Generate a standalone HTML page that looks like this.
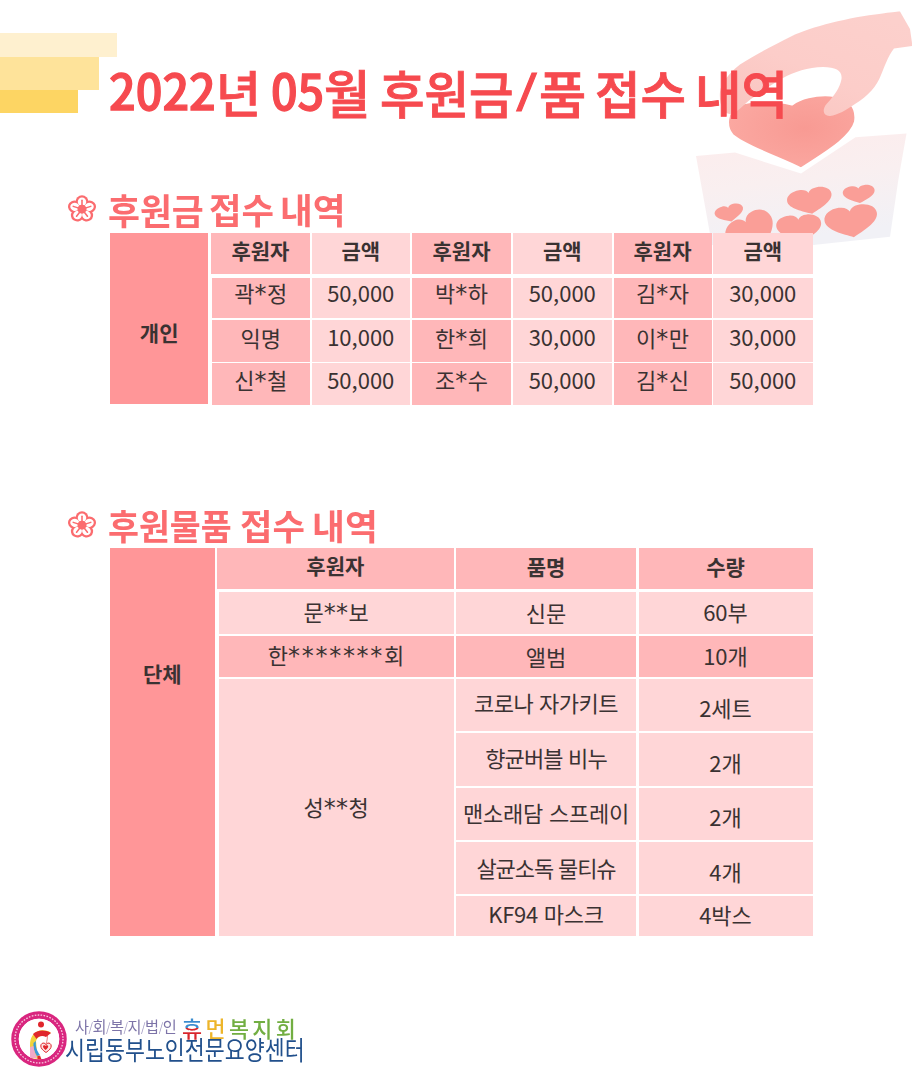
<!DOCTYPE html>
<html lang="ko">
<head>
<meta charset="utf-8">
<title>2022년 05월 후원금/품 접수 내역</title>
<style>
*{margin:0;padding:0;box-sizing:border-box}
html,body{width:912px;height:1080px;background:#fff;overflow:hidden}
body{position:relative;font-family:"Liberation Sans","Noto Sans CJK KR",sans-serif;color:#3a3232}
.a{position:absolute;white-space:nowrap;line-height:normal}
.bar1{left:0;top:33px;width:117px;height:24px;background:#fef0cf}
.bar2{left:0;top:57px;width:99px;height:33px;background:#fee39a}
.bar3{left:0;top:90px;width:78px;height:23px;background:#fdd563}
.t{font-family:"Noto Sans CJK KR",sans-serif;font-weight:500;-webkit-text-stroke:0.9px #f64a4f;color:#f64a4f;transform-origin:0 0}
.t.n{-webkit-text-stroke:1.3px #f64a4f}
.hd{font-family:"Noto Sans CJK KR",sans-serif;font-weight:700;color:#fb6c6f;transform-origin:0 0}
.fl{font-family:"DejaVu Sans",sans-serif;font-size:36.5px;color:#fb6c6f;transform-origin:0 0;transform:scaleX(1.04)}
.c{position:absolute;display:flex;align-items:center;justify-content:center;font-family:"Noto Sans CJK KR",sans-serif;font-size:22px;white-space:nowrap;color:#3a3232;line-height:32px}
.c.h,.c.lb{font-size:21px;font-weight:700;line-height:30px}
.s{font-family:"DejaVu Sans",sans-serif;font-size:24px;line-height:0;letter-spacing:0.4px}
.lg{font-family:"Noto Sans CJK KR",sans-serif;transform-origin:0 0}
</style>
</head>
<body>
<div class="a bar1"></div>
<div class="a bar2"></div>
<div class="a bar3"></div>

<svg class="a" style="left:680px;top:0" width="232" height="250" viewBox="680 0 232 250">
<defs>
<linearGradient id="bx" x1="0" y1="0" x2="0.25" y2="1"><stop offset="0" stop-color="#fdecec"/><stop offset="0.5" stop-color="#f9eff0"/><stop offset="1" stop-color="#f1f1f6"/></linearGradient>
<linearGradient id="hd" x1="0" y1="1" x2="0.8" y2="0"><stop offset="0" stop-color="#f9c3be"/><stop offset="0.5" stop-color="#fccdc9"/><stop offset="1" stop-color="#fcd0cc"/></linearGradient>
<radialGradient id="bh" cx="0.6" cy="0.45" r="0.65"><stop offset="0" stop-color="#f89a93"/><stop offset="1" stop-color="#fba9a2"/></radialGradient>
</defs>
<path d="M696 156 L735 152.6 L801 173.5 L855.5 137.3 L906.5 133.5 L898.3 180 L890 236.7 L813.3 245 L712 245 Z" fill="url(#bx)"/>
<path d="M .5,.98 C .32,.84 0,.64 0,.34 C 0,.12 .15,0 .3,0 C .41,0 .48,.08 .5,.17 C .52,.08 .59,0 .7,0 C .85,0 1,.12 1,.34 C 1,.64 .68,.84 .5,.98 Z" fill="#fa9e97" transform="rotate(-14 729.5 213.5) translate(715.0 205.0) scale(29 17)"/>
<path d="M .5,.98 C .32,.84 0,.64 0,.34 C 0,.12 .15,0 .3,0 C .41,0 .48,.08 .5,.17 C .52,.08 .59,0 .7,0 C .85,0 1,.12 1,.34 C 1,.64 .68,.84 .5,.98 Z" fill="#fa9e97" transform="rotate(-28 752 234) translate(727.0 214.0) scale(50 40)"/>
<path d="M .5,.98 C .32,.84 0,.64 0,.34 C 0,.12 .15,0 .3,0 C .41,0 .48,.08 .5,.17 C .52,.08 .59,0 .7,0 C .85,0 1,.12 1,.34 C 1,.64 .68,.84 .5,.98 Z" fill="#fa9e97" transform="rotate(-4 799 229) translate(776.5 215.0) scale(45 28)"/>
<path d="M .5,.98 C .32,.84 0,.64 0,.34 C 0,.12 .15,0 .3,0 C .41,0 .48,.08 .5,.17 C .52,.08 .59,0 .7,0 C .85,0 1,.12 1,.34 C 1,.64 .68,.84 .5,.98 Z" fill="#fa9e97" transform="rotate(-10 810 201.5) translate(787.5 188.5) scale(45 26)"/>
<path d="M .5,.98 C .32,.84 0,.64 0,.34 C 0,.12 .15,0 .3,0 C .41,0 .48,.08 .5,.17 C .52,.08 .59,0 .7,0 C .85,0 1,.12 1,.34 C 1,.64 .68,.84 .5,.98 Z" fill="#fa9e97" transform="rotate(-6 859 194.5) translate(843.0 185.5) scale(32 18)"/>
<path d="M .5,.98 C .32,.84 0,.64 0,.34 C 0,.12 .15,0 .3,0 C .41,0 .48,.08 .5,.17 C .52,.08 .59,0 .7,0 C .85,0 1,.12 1,.34 C 1,.64 .68,.84 .5,.98 Z" fill="#fa9e97" transform="rotate(-9 851.5 222) translate(825.0 206.0) scale(53 32)"/>
<path d="M801 169 C 785 160, 745 147, 732 135 C 725 127, 726 111, 737 105 C 752 99, 776 100, 792 104 C 800 98, 815 94, 830 95 C 848 96, 858 106, 855.5 122 C 851 139, 822 155, 801 169 Z" fill="url(#bh)" stroke="#fff" stroke-width="3" stroke-linejoin="round"/>
<path d="M900 11.6 L910 29 L912 43 L912 46 L894 48.5 C 888 56, 884 68, 881 75 C 877 86, 868 96, 855 104 C 846 110, 838 115, 830 116 C 824 116.5, 821 110, 827 103.5 C 834 96, 840 88, 841.5 79 C 842.5 71, 836 67, 823 67 C 808 67, 794 72, 783 78 C 770 85, 759 94, 751 99 C 744 104, 738 112, 731 114 C 723 115, 719 104, 720 92 C 721 84, 728 74, 740 64.6 C 755 55, 772 46, 792 36 C 810 27, 850 17, 881 13.7 C 890 12.5, 896 11.8, 900 11.6 Z" fill="url(#hd)"/>
</svg>

<div class="a t n" style="left:108.7px;top:52.9px;font-size:49.3px;transform:scaleX(0.95)">2022</div>
<div class="a t" style="left:215.8px;top:56.1px;font-size:49.5px;transform:scaleX(0.987)">년</div>
<div class="a t n" style="left:270.9px;top:52.9px;font-size:49.3px;transform:scaleX(0.946)">05</div>
<div class="a t" style="left:324px;top:53.1px;font-size:52.2px;transform:scaleX(0.966)">월</div>
<div class="a t" style="left:380.3px;top:54.5px;font-size:51.2px;transform:scaleX(0.945)">후원금</div>
<div class="a t" style="left:515.9px;top:61.7px;font-size:38.7px;transform:scaleX(1.433)">/</div>
<div class="a t" style="left:538.8px;top:54.9px;font-size:51px;transform:scaleX(1.005)">품</div>
<div class="a t" style="left:594.5px;top:54.3px;font-size:51.3px;transform:scaleX(0.965)">접수</div>
<div class="a t" style="left:695.4px;top:54.3px;font-size:51.3px;transform:scaleX(0.987)">내역</div>

<svg class="a" style="left:63.6px;top:191px" width="36" height="34" viewBox="63.6 191 36 34"><g transform="translate(81.6 209.1) scale(1.04 1) translate(-81.6 -209.1)"><ellipse cx="81.60" cy="201.80" rx="6.60" ry="6.25" transform="rotate(-90 81.60 201.80)" fill="#fb6c6f"/><ellipse cx="88.54" cy="206.84" rx="6.60" ry="6.25" transform="rotate(-18 88.54 206.84)" fill="#fb6c6f"/><ellipse cx="85.89" cy="215.01" rx="6.60" ry="6.25" transform="rotate(54 85.89 215.01)" fill="#fb6c6f"/><ellipse cx="77.31" cy="215.01" rx="6.60" ry="6.25" transform="rotate(126 77.31 215.01)" fill="#fb6c6f"/><ellipse cx="74.66" cy="206.84" rx="6.60" ry="6.25" transform="rotate(198 74.66 206.84)" fill="#fb6c6f"/><ellipse cx="81.60" cy="201.80" rx="4.40" ry="4.05" transform="rotate(-90 81.60 201.80)" fill="#fff"/><ellipse cx="88.54" cy="206.84" rx="4.40" ry="4.05" transform="rotate(-18 88.54 206.84)" fill="#fff"/><ellipse cx="85.89" cy="215.01" rx="4.40" ry="4.05" transform="rotate(54 85.89 215.01)" fill="#fff"/><ellipse cx="77.31" cy="215.01" rx="4.40" ry="4.05" transform="rotate(126 77.31 215.01)" fill="#fff"/><ellipse cx="74.66" cy="206.84" rx="4.40" ry="4.05" transform="rotate(198 74.66 206.84)" fill="#fff"/><line x1="81.6" y1="209.1" x2="81.60" y2="200.20" stroke="#fb6c6f" stroke-width="1.5" stroke-linecap="round"/><line x1="81.6" y1="209.1" x2="90.06" y2="206.35" stroke="#fb6c6f" stroke-width="1.5" stroke-linecap="round"/><line x1="81.6" y1="209.1" x2="86.83" y2="216.30" stroke="#fb6c6f" stroke-width="1.5" stroke-linecap="round"/><line x1="81.6" y1="209.1" x2="76.37" y2="216.30" stroke="#fb6c6f" stroke-width="1.5" stroke-linecap="round"/><line x1="81.6" y1="209.1" x2="73.14" y2="206.35" stroke="#fb6c6f" stroke-width="1.5" stroke-linecap="round"/><circle cx="81.6" cy="209.1" r="4.4" fill="#fb6c6f"/></g></svg>
<div class="a hd" style="left:107.9px;top:182.5px;font-size:36.2px;transform:scaleX(0.959)">후원금</div>
<div class="a hd" style="left:209.3px;top:183.4px;font-size:35.4px;transform:scaleX(0.998)">접수</div>
<div class="a hd" style="left:280.2px;top:183.4px;font-size:35.4px;transform:scaleX(1.007)">내역</div>

<div class="c b lb" style="left:110px;top:233px;width:98.3px;height:170.8px;background:#ff9698"><span style="position:relative;top:14.05px">개인</span></div>
<div class="c b h" style="left:210.8px;top:233px;width:99.2px;height:40.6px;background:#ffb7b9"><span style="position:relative;top:-3.3px">후원자</span></div>
<div class="c b h" style="left:311.5px;top:233px;width:98.5px;height:40.6px;background:#ffd6d7"><span style="position:relative;top:-3.3px">금액</span></div>
<div class="c b h" style="left:412px;top:233px;width:99px;height:40.6px;background:#ffb7b9"><span style="position:relative;top:-3.3px">후원자</span></div>
<div class="c b h" style="left:512.5px;top:233px;width:99.5px;height:40.6px;background:#ffd6d7"><span style="position:relative;top:-3.3px">금액</span></div>
<div class="c b h" style="left:613.5px;top:233px;width:98.0px;height:40.6px;background:#ffb7b9"><span style="position:relative;top:-3.3px">후원자</span></div>
<div class="c b h" style="left:713px;top:233px;width:99.5px;height:40.6px;background:#ffd6d7"><span style="position:relative;top:-3.3px">금액</span></div>
<div class="c " style="left:211.5px;top:277.5px;width:98.5px;height:40.8px;background:#ffb7b9"><span style="position:relative;top:-5.6px">곽<span class="s" style="letter-spacing:0.4px">*</span>정</span></div>
<div class="c " style="left:311.5px;top:277.5px;width:98.5px;height:40.8px;background:#ffd6d7"><span style="position:relative;top:-5.9px">50,000</span></div>
<div class="c " style="left:412px;top:277.5px;width:99px;height:40.8px;background:#ffb7b9"><span style="position:relative;top:-5.6px">박<span class="s" style="letter-spacing:0.4px">*</span>하</span></div>
<div class="c " style="left:512.5px;top:277.5px;width:99.5px;height:40.8px;background:#ffd6d7"><span style="position:relative;top:-5.9px">50,000</span></div>
<div class="c " style="left:613.5px;top:277.5px;width:98.0px;height:40.8px;background:#ffb7b9"><span style="position:relative;top:-5.6px">김<span class="s" style="letter-spacing:0.4px">*</span>자</span></div>
<div class="c " style="left:713px;top:277.5px;width:99.5px;height:40.8px;background:#ffd6d7"><span style="position:relative;top:-5.9px">30,000</span></div>
<div class="c " style="left:211.5px;top:320.1px;width:98.5px;height:41.7px;background:#ffb7b9"><span style="position:relative;top:-4.1px">익명</span></div>
<div class="c " style="left:311.5px;top:320.1px;width:98.5px;height:41.7px;background:#ffd6d7"><span style="position:relative;top:-5.0px">10,000</span></div>
<div class="c " style="left:412px;top:320.1px;width:99px;height:41.7px;background:#ffb7b9"><span style="position:relative;top:-4.1px">한<span class="s" style="letter-spacing:0.4px">*</span>희</span></div>
<div class="c " style="left:512.5px;top:320.1px;width:99.5px;height:41.7px;background:#ffd6d7"><span style="position:relative;top:-5.0px">30,000</span></div>
<div class="c " style="left:613.5px;top:320.1px;width:98.0px;height:41.7px;background:#ffb7b9"><span style="position:relative;top:-4.1px">이<span class="s" style="letter-spacing:0.4px">*</span>만</span></div>
<div class="c " style="left:713px;top:320.1px;width:99.5px;height:41.7px;background:#ffd6d7"><span style="position:relative;top:-5.0px">30,000</span></div>
<div class="c " style="left:211.5px;top:363.3px;width:98.5px;height:41.4px;background:#ffb7b9"><span style="position:relative;top:-5.3px">신<span class="s" style="letter-spacing:0.4px">*</span>철</span></div>
<div class="c " style="left:311.5px;top:363.3px;width:98.5px;height:41.4px;background:#ffd6d7"><span style="position:relative;top:-5.0px">50,000</span></div>
<div class="c " style="left:412px;top:363.3px;width:99px;height:41.4px;background:#ffb7b9"><span style="position:relative;top:-5.3px">조<span class="s" style="letter-spacing:0.4px">*</span>수</span></div>
<div class="c " style="left:512.5px;top:363.3px;width:99.5px;height:41.4px;background:#ffd6d7"><span style="position:relative;top:-5.0px">50,000</span></div>
<div class="c " style="left:613.5px;top:363.3px;width:98.0px;height:41.4px;background:#ffb7b9"><span style="position:relative;top:-5.3px">김<span class="s" style="letter-spacing:0.4px">*</span>신</span></div>
<div class="c " style="left:713px;top:363.3px;width:99.5px;height:41.4px;background:#ffd6d7"><span style="position:relative;top:-5.0px">50,000</span></div>


<svg class="a" style="left:63.6px;top:507px" width="36" height="34" viewBox="63.6 507 36 34"><g transform="translate(81.6 525.1) scale(1.04 1) translate(-81.6 -525.1)"><ellipse cx="81.60" cy="517.80" rx="6.60" ry="6.25" transform="rotate(-90 81.60 517.80)" fill="#fb6c6f"/><ellipse cx="88.54" cy="522.84" rx="6.60" ry="6.25" transform="rotate(-18 88.54 522.84)" fill="#fb6c6f"/><ellipse cx="85.89" cy="531.01" rx="6.60" ry="6.25" transform="rotate(54 85.89 531.01)" fill="#fb6c6f"/><ellipse cx="77.31" cy="531.01" rx="6.60" ry="6.25" transform="rotate(126 77.31 531.01)" fill="#fb6c6f"/><ellipse cx="74.66" cy="522.84" rx="6.60" ry="6.25" transform="rotate(198 74.66 522.84)" fill="#fb6c6f"/><ellipse cx="81.60" cy="517.80" rx="4.40" ry="4.05" transform="rotate(-90 81.60 517.80)" fill="#fff"/><ellipse cx="88.54" cy="522.84" rx="4.40" ry="4.05" transform="rotate(-18 88.54 522.84)" fill="#fff"/><ellipse cx="85.89" cy="531.01" rx="4.40" ry="4.05" transform="rotate(54 85.89 531.01)" fill="#fff"/><ellipse cx="77.31" cy="531.01" rx="4.40" ry="4.05" transform="rotate(126 77.31 531.01)" fill="#fff"/><ellipse cx="74.66" cy="522.84" rx="4.40" ry="4.05" transform="rotate(198 74.66 522.84)" fill="#fff"/><line x1="81.6" y1="525.1" x2="81.60" y2="516.20" stroke="#fb6c6f" stroke-width="1.5" stroke-linecap="round"/><line x1="81.6" y1="525.1" x2="90.06" y2="522.35" stroke="#fb6c6f" stroke-width="1.5" stroke-linecap="round"/><line x1="81.6" y1="525.1" x2="86.83" y2="532.30" stroke="#fb6c6f" stroke-width="1.5" stroke-linecap="round"/><line x1="81.6" y1="525.1" x2="76.37" y2="532.30" stroke="#fb6c6f" stroke-width="1.5" stroke-linecap="round"/><line x1="81.6" y1="525.1" x2="73.14" y2="522.35" stroke="#fb6c6f" stroke-width="1.5" stroke-linecap="round"/><circle cx="81.6" cy="525.1" r="4.4" fill="#fb6c6f"/></g></svg>
<div class="a hd" style="left:107.9px;top:499px;font-size:35.6px;transform:scaleX(0.945)">후원물품</div>
<div class="a hd" style="left:240.3px;top:499.4px;font-size:35.3px;transform:scaleX(0.999)">접수</div>
<div class="a hd" style="left:311.5px;top:499.4px;font-size:35.3px;transform:scaleX(1.013)">내역</div>

<div class="c b lb" style="left:110px;top:548px;width:104.5px;height:387.5px;background:#ff9698"><span style="position:relative;top:-68.8px">단체</span></div>
<div class="c b h" style="left:217px;top:548px;width:236.6px;height:40.5px;background:#ffb7b9"><span style="position:relative;top:-3.1px">후원자</span></div>
<div class="c b h" style="left:456px;top:548px;width:180px;height:40.5px;background:#ffb7b9"><span style="position:relative;top:-1.8px">품명</span></div>
<div class="c b h" style="left:638.5px;top:548px;width:174.0px;height:40.5px;background:#ffb7b9"><span style="position:relative;top:-1.8px">수량</span></div>
<div class="c " style="left:218.5px;top:592px;width:235.1px;height:41.5px;background:#ffd6d7"><span style="position:relative;top:-1.6px">문<span class="s" style="letter-spacing:0.4px">**</span>보</span></div>
<div class="c " style="left:456px;top:592px;width:180px;height:41.5px;background:#ffd6d7"><span style="position:relative;top:-1.2px">신문</span></div>
<div class="c " style="left:638.5px;top:592px;width:174.0px;height:41.5px;background:#ffd6d7"><span style="position:relative;top:-1.4px">60부</span></div>
<div class="c " style="left:218.5px;top:635.5px;width:235.1px;height:41.0px;background:#ffb7b9"><span style="position:relative;top:-1.6px">한<span class="s" style="letter-spacing:1.7px">*******</span>회</span></div>
<div class="c " style="left:456px;top:635.5px;width:180px;height:41.0px;background:#ffb7b9"><span style="position:relative;top:-0.5px">앨범</span></div>
<div class="c " style="left:638.5px;top:635.5px;width:174.0px;height:41.0px;background:#ffb7b9"><span style="position:relative;top:-0.65px">10개</span></div>
<div class="c " style="left:218.5px;top:678.5px;width:235.1px;height:257.5px;background:#ffd6d7"><span style="position:relative;top:-1.65px">성<span class="s" style="letter-spacing:0.4px">**</span>청</span></div>
<div class="c " style="left:456px;top:678.5px;width:180px;height:52.5px;background:#ffd6d7"><span style="position:relative;top:-2.6px;letter-spacing:-0.5px">코로나 자가키트</span></div>
<div class="c " style="left:638.5px;top:678.5px;width:174.0px;height:52.5px;background:#ffd6d7"><span style="position:relative;top:2.2px">2세트</span></div>
<div class="c " style="left:456px;top:733px;width:180px;height:52.5px;background:#ffd6d7"><span style="position:relative;top:-2.15px;letter-spacing:-0.85px">향균버블 비누</span></div>
<div class="c " style="left:638.5px;top:733px;width:174.0px;height:52.5px;background:#ffd6d7"><span style="position:relative;top:2.75px">2개</span></div>
<div class="c " style="left:456px;top:787.5px;width:180px;height:52.0px;background:#ffd6d7"><span style="position:relative;top:-1.3px;letter-spacing:-0.25px">맨소래담 스프레이</span></div>
<div class="c " style="left:638.5px;top:787.5px;width:174.0px;height:52.0px;background:#ffd6d7"><span style="position:relative;top:2.7px">2개</span></div>
<div class="c " style="left:456px;top:841.5px;width:180px;height:52.0px;background:#ffd6d7"><span style="position:relative;top:-0.25px;letter-spacing:-1.1px">살균소독 물티슈</span></div>
<div class="c " style="left:638.5px;top:841.5px;width:174.0px;height:52.0px;background:#ffd6d7"><span style="position:relative;top:3.55px">4개</span></div>
<div class="c " style="left:456px;top:895.5px;width:180px;height:40.5px;background:#ffd6d7"><span style="position:relative;top:-2.3px;letter-spacing:-0.3px">KF94 마스크</span></div>
<div class="c " style="left:638.5px;top:895.5px;width:174.0px;height:40.5px;background:#ffd6d7"><span style="position:relative;top:-2.0px">4박스</span></div>


<svg class="a" style="left:8px;top:1008px" width="64" height="64" viewBox="8 1008 64 64">
<circle cx="39" cy="1039" r="24" fill="none" stroke="#d9267f" stroke-width="7.5"/>
<circle cx="39" cy="1039" r="24" fill="none" stroke="#f9cfe2" stroke-width="1.3" stroke-dasharray="1.6 1.4"/>
<circle cx="39" cy="1039" r="20.2" fill="#fff"/>
<circle cx="41" cy="1024.5" r="3" fill="#e0262c"/>
<path d="M30 1058 L30 1045 C 30 1038, 33 1032, 40 1030.5 C 45 1029.8, 49 1031, 51 1033 L 45 1036 C 41 1035, 37 1037, 36 1041 L 37 1052 L 40 1059 Z" fill="#f2d23a"/>
<path d="M33 1034 C 37 1030.5, 44 1029, 51 1033 L 46 1037 C 42 1035, 38 1036.5, 36.5 1039 Z" fill="#e0262c"/>
<path d="M36 1041 C 35 1046, 37 1051, 40 1055 L 37 1056 C 34 1052, 33 1047, 33.5 1043 Z" fill="#3a9ad8"/>
<path d="M30 1047 L33.5 1046 C 34 1051, 35.5 1055, 37.5 1058 L30 1058 Z" fill="#f0a9c8"/>
<path d="M37.5 1056 L40 1055.5 L41.5 1059.5 L37.5 1059.5 Z" fill="#e0262c"/>
<path d="M47 1033 C 48 1037, 47 1041, 46 1044" stroke="#e0262c" stroke-width="0.6" fill="none"/>
<path d="M46 1052.5 C 42.5 1050.2, 40.8 1048, 40.8 1046 C 40.8 1043.8, 42.6 1042.8, 44.1 1043.1 C 45.1 1043.3, 45.7 1044, 46 1044.7 C 46.3 1044, 46.9 1043.3, 47.9 1043.1 C 49.4 1042.8, 51.2 1043.8, 51.2 1046 C 51.2 1048, 49.5 1050.2, 46 1052.5 Z" fill="#fde3e3" stroke="#e0262c" stroke-width="1"/><path d="M45.6 1050 C 43.8 1048.7, 43 1047.6, 43 1046.6 C 43 1045.5, 43.9 1045, 44.7 1045.2 C 45.1 1045.3, 45.4 1045.6, 45.6 1046 C 45.8 1045.6, 46.1 1045.3, 46.5 1045.2 C 47.3 1045, 48.2 1045.5, 48.2 1046.6 C 48.2 1047.6, 47.4 1048.7, 45.6 1050 Z" fill="#e0262c"/>
</svg>
<div class="a lg" style="left:74.9px;top:1013.6px;font-size:16px;color:#7d74a8;transform:scaleX(0.95)">사<span style="font-size:12px;color:#a49dc4;margin:0 -0.5px">/</span>회<span style="font-size:12px;color:#a49dc4;margin:0 -0.5px">/</span>복<span style="font-size:12px;color:#a49dc4;margin:0 -0.5px">/</span>지<span style="font-size:12px;color:#a49dc4;margin:0 -0.5px">/</span>법<span style="font-size:12px;color:#a49dc4;margin:0 -0.5px">/</span>인</div>
<div class="a lg" style="left:181.6px;top:1011.5px;font-size:21.4px;font-weight:500;letter-spacing:3.3px;transform:scaleX(1.02)"><span style="background:linear-gradient(#3a8ccf 0,#3a8ccf 52%,#d8262b 52%);-webkit-background-clip:text;background-clip:text;color:transparent">휴</span><span style="color:#edb52a">먼</span><span style="color:#72ae42">복지회</span></div>
<div class="a lg" style="left:65.3px;top:1030px;font-size:25.7px;font-weight:400;color:#21508c;transform:scaleX(0.845)">시립동부노인전문요양센터</div>

</body>
</html>
